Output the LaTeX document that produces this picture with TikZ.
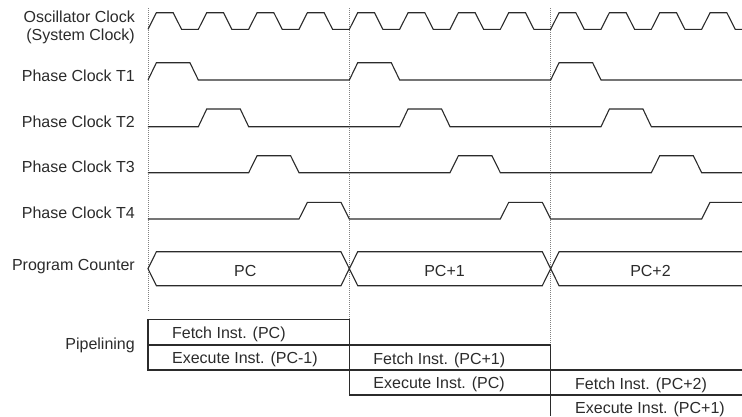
\documentclass[tikz,border=0pt]{standalone}
\usepackage{fontspec}
\setmainfont{Liberation Sans}
\usepackage{xcolor}
\usepackage{tikz}
\definecolor{ink}{HTML}{2B2B2B}

\begin{document}
\begin{tikzpicture}[x=8.389pt, y=-1pt,
  sig/.style={ink, line width=1.1pt},
  divline/.style={gray, line width=0.7pt, dash pattern=on 1pt off 1pt},
  cellbox/.style={ink, line width=1.1pt},
  lbl/.style={anchor=base east, inner sep=0pt, text=ink, font=\fontsize{16}{19}\selectfont},
  celltxt/.style={anchor=base west, inner sep=0pt, text=ink, font=\fontsize{16}{19}\selectfont},
  pctxt/.style={anchor=base, inner sep=0pt, text=ink, font=\fontsize{16}{19}\selectfont}]
\useasboundingbox (-17.642,0) rectangle (70.807,416);

% instruction cycle boundaries
\draw[divline] (0,8) -- (0,312);
\draw[divline] (24,8) -- (24,319.3);
\draw[divline] (48,8) -- (48,345);

% signal names
\node[lbl] (osc) at (-1.55,22.7) {Oscillator Clock};
\node[lbl] (sys) at (-1.55,40.3) {(System Clock)};
\node[lbl] (t1) at (-1.55,81) {Phase Clock T1};
\node[lbl] (t2) at (-1.55,127.3) {Phase Clock T2};
\node[lbl] (t3) at (-1.55,172.5) {Phase Clock T3};
\node[lbl] (t4) at (-1.55,218.5) {Phase Clock T4};
\node[lbl] (pcnt) at (-1.55,270.7) {Program Counter};
\node[lbl] (pipe) at (-1.55,349.5) {Pipelining};

% oscillator clock
\draw[sig] (0,29.3) -- (1,12.7) -- (3,12.7) -- (4,29.3) -- (6,29.3)
  -- (7,12.7) -- (9,12.7) -- (10,29.3) -- (12,29.3)
  -- (13,12.7) -- (15,12.7) -- (16,29.3) -- (18,29.3)
  -- (19,12.7) -- (21,12.7) -- (22,29.3) -- (24,29.3)
  -- (25,12.7) -- (27,12.7) -- (28,29.3) -- (30,29.3)
  -- (31,12.7) -- (33,12.7) -- (34,29.3) -- (36,29.3)
  -- (37,12.7) -- (39,12.7) -- (40,29.3) -- (42,29.3)
  -- (43,12.7) -- (45,12.7) -- (46,29.3) -- (48,29.3)
  -- (49,12.7) -- (51,12.7) -- (52,29.3) -- (54,29.3)
  -- (55,12.7) -- (57,12.7) -- (58,29.3) -- (60,29.3)
  -- (61,12.7) -- (63,12.7) -- (64,29.3) -- (66,29.3)
  -- (67,12.7) -- (69,12.7) -- (70,29.3) -- (70.807,29.3);

% phase clocks
\draw[sig] (0,80) -- (1,62.7) -- (5,62.7) -- (6,80) -- (24,80)
  -- (25,62.7) -- (29,62.7) -- (30,80) -- (48,80)
  -- (49,62.7) -- (53,62.7) -- (54,80) -- (70.807,80);
\draw[sig] (0,126.7) -- (6,126.7) -- (7,109) -- (11,109) -- (12,126.7)
  -- (30,126.7) -- (31,109) -- (35,109) -- (36,126.7)
  -- (54,126.7) -- (55,109) -- (59,109) -- (60,126.7) -- (70.807,126.7);
\draw[sig] (0,172.7) -- (12,172.7) -- (13,155.7) -- (17,155.7) -- (18,172.7)
  -- (36,172.7) -- (37,155.7) -- (41,155.7) -- (42,172.7)
  -- (60,172.7) -- (61,155.7) -- (65,155.7) -- (66,172.7) -- (70.807,172.7);
\draw[sig] (0,219) -- (18,219) -- (19,202.3) -- (23,202.3) -- (24,219)
  -- (42,219) -- (43,202.3) -- (47,202.3) -- (48,219)
  -- (66,219) -- (67,202.3) -- (70.807,202.3);

% program counter
\draw[sig] (0,268.7) -- (1,251.7) -- (23,251.7) -- (24,268.7) -- (23,285.7) -- (1,285.7) -- cycle;
\draw[sig] (24,268.7) -- (25,251.7) -- (47,251.7) -- (48,268.7) -- (47,285.7) -- (25,285.7) -- cycle;
\draw[sig] (70.807,251.7) -- (49,251.7) -- (48,268.7) -- (49,285.7) -- (70.807,285.7);
\node[pctxt] (pc0) at (11.6,276.7) {PC};
\node[pctxt] (pc1) at (35.35,276.7) {PC+1};
\node[pctxt] (pc2) at (59.9,276.7) {PC+2};

% pipelining
\draw[cellbox] (0,319.3) rectangle (24,370);
\draw[cellbox] (0,345) -- (24,345);
\node[celltxt] (f0) at (2.85,338.7) {Fetch Inst. (PC)};
\node[celltxt] (e0) at (2.85,363.3) {Execute Inst. (PC-1)};
\draw[cellbox] (24,345) rectangle (48,395);
\draw[cellbox] (24,370) -- (48,370);
\node[celltxt] (f1) at (26.85,364.3) {Fetch Inst. (PC+1)};
\node[celltxt] (e1) at (26.85,388.6) {Execute Inst. (PC)};
\draw[cellbox] (70.807,370) -- (48,370) -- (48,416);
\draw[cellbox] (48,395) -- (70.807,395);
\node[celltxt] (f2) at (50.9,389.3) {Fetch Inst. (PC+2)};
\node[celltxt] (e2) at (50.9,413.4) {Execute Inst. (PC+1)};
\end{tikzpicture}
\end{document}
